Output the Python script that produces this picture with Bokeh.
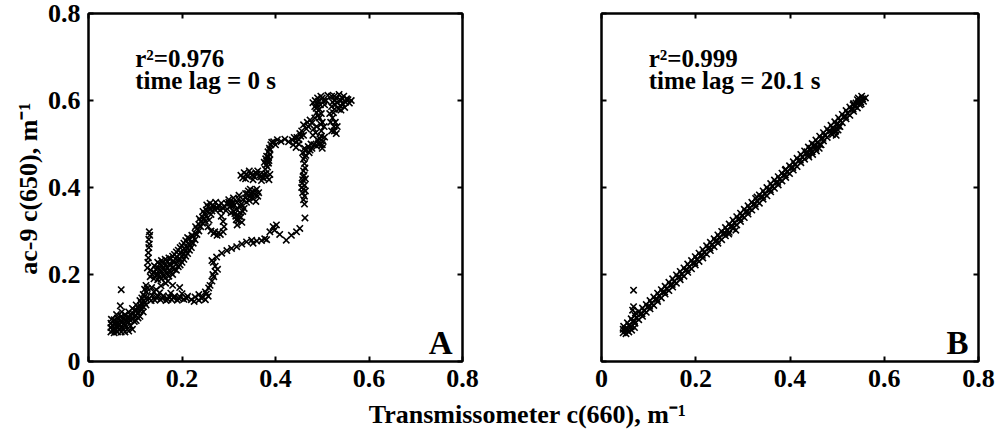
import numpy as np
from bokeh.plotting import figure
from bokeh.models import Range1d, LinearAxis, FixedTicker, NumeralTickFormatter, CustomJSTickFormatter, Label
from bokeh.layouts import column, row
from bokeh.embed import file_html
from bokeh.resources import INLINE

# ---------------- texts / ticks ----------------
TICKS = [0, 0.2, 0.4, 0.6, 0.8]
XLABEL = "Transmissometer c(660), m\u207b\u00b9"
YLABEL = "ac-9 c(650), m\u207b\u00b9"
ANNOT_A = ["r\u00b2=0.976", "time lag = 0 s"]
ANNOT_B = ["r\u00b2=0.999", "time lag = 20.1 s"]
LETTERS = ["A", "B"]

# ---------------- panel A data (time lag 0 s) ----------------
a_band = [(0.048,0.068),(0.048,0.078),(0.048,0.088),(0.049,0.097),
          (0.055,0.066),(0.055,0.076),(0.056,0.086),(0.055,0.096),
          (0.062,0.068),(0.062,0.078),(0.063,0.088),(0.062,0.100),
          (0.070,0.068),(0.070,0.080),(0.071,0.092),(0.070,0.104),
          (0.078,0.068),(0.078,0.084),(0.079,0.096),(0.078,0.108),
          (0.086,0.070),(0.086,0.090),(0.087,0.102),(0.086,0.114),
          (0.094,0.074),(0.094,0.098),(0.095,0.110),(0.094,0.122),
          (0.102,0.094),(0.102,0.106),(0.103,0.118),(0.102,0.130),
          (0.110,0.104),(0.110,0.116),(0.111,0.128),(0.110,0.140),
          (0.117,0.114),(0.117,0.126),(0.118,0.140),(0.117,0.154),
          (0.123,0.130),(0.123,0.145),(0.124,0.160),(0.123,0.175),
          (0.052,0.072),(0.059,0.082),(0.066,0.074),(0.074,0.086),(0.082,0.080),
          (0.090,0.094),(0.098,0.104),(0.106,0.112),(0.113,0.122),(0.120,0.135),
          (0.066,0.094),(0.082,0.100),(0.098,0.118),(0.113,0.134),(0.090,0.082),
          (0.051,0.083),(0.058,0.091),(0.065,0.083),(0.074,0.076),(0.074,0.098),
          (0.082,0.092),(0.090,0.106),(0.098,0.092),(0.106,0.124),(0.106,0.100),
          (0.114,0.146),(0.120,0.150),(0.120,0.166),(0.126,0.168),(0.058,0.072),(0.066,0.086),
          (0.070,0.165),(0.068,0.128),(0.071,0.114),(0.060,0.108)]
a_spike = [(0.130,0.298),(0.131,0.290),(0.129,0.281),(0.130,0.270),(0.129,0.262),
           (0.128,0.250),(0.128,0.238),(0.127,0.228),(0.126,0.215)]
a_upper = [(0.132,0.195),(0.133,0.210),
           (0.140,0.190),(0.140,0.205),(0.141,0.220),
           (0.148,0.188),(0.148,0.200),(0.149,0.215),(0.148,0.228),
           (0.156,0.190),(0.156,0.205),(0.157,0.220),(0.156,0.232),
           (0.164,0.192),(0.164,0.208),(0.165,0.222),(0.164,0.235),
           (0.172,0.196),(0.172,0.210),(0.173,0.225),(0.172,0.238),
           (0.180,0.200),(0.180,0.215),(0.181,0.230),(0.180,0.242),
           (0.188,0.210),(0.188,0.225),(0.189,0.240),(0.188,0.252),
           (0.196,0.222),(0.196,0.236),(0.197,0.250),(0.196,0.262),
           (0.204,0.235),(0.204,0.248),(0.205,0.260),(0.204,0.272),
           (0.212,0.248),(0.212,0.260),(0.213,0.272),(0.212,0.285),
           (0.220,0.262),(0.220,0.275),(0.221,0.290),
           (0.228,0.280),(0.228,0.295),(0.229,0.310),
           (0.236,0.300),(0.236,0.315),(0.237,0.328),
           (0.244,0.318),(0.244,0.332),(0.245,0.345),
           (0.252,0.335),(0.252,0.348),(0.253,0.360),
           (0.260,0.352),(0.260,0.364),
           (0.136,0.200),(0.144,0.198),(0.144,0.212),(0.152,0.195),(0.152,0.210),
           (0.152,0.224),(0.160,0.198),(0.160,0.214),(0.160,0.228),(0.168,0.202),
           (0.168,0.216),(0.168,0.230),(0.176,0.206),(0.176,0.222),(0.176,0.236),
           (0.184,0.212),(0.184,0.228),(0.184,0.246),(0.192,0.218),(0.192,0.232),
           (0.192,0.256),(0.200,0.228),(0.200,0.242),(0.200,0.266),(0.208,0.242),
           (0.208,0.256),(0.208,0.278),(0.216,0.256),(0.216,0.268),(0.216,0.282),
           (0.224,0.272),(0.224,0.288),(0.232,0.292),(0.232,0.305),(0.240,0.310),
           (0.240,0.322),(0.248,0.328),(0.248,0.340),(0.256,0.344),(0.256,0.356),
           (0.135,0.170),(0.145,0.165),(0.155,0.174),(0.165,0.180),
           (0.180,0.175),(0.195,0.170),(0.170,0.185)]
a_loop = [(0.266,0.360),(0.272,0.366),(0.278,0.358),(0.284,0.364),(0.290,0.357),
          (0.296,0.363),(0.302,0.356),(0.308,0.362),(0.270,0.350),(0.282,0.348),(0.294,0.347),
          (0.268,0.356),(0.276,0.352),(0.288,0.352),(0.300,0.366),(0.264,0.346),
          (0.250,0.322),(0.256,0.310),(0.262,0.300),(0.268,0.294),(0.275,0.290),
          (0.282,0.292),(0.288,0.298),(0.290,0.310),(0.288,0.322),(0.284,0.334),
          (0.262,0.338),(0.258,0.325),(0.278,0.296),(0.270,0.298)]
a_mid = [(0.300,0.372),(0.305,0.358),(0.310,0.345),(0.315,0.334),(0.320,0.324),
         (0.318,0.314),(0.326,0.332),(0.310,0.376),(0.318,0.366),(0.325,0.356),
         (0.330,0.345),(0.322,0.382),(0.330,0.372),(0.312,0.360),(0.305,0.342),
         (0.328,0.320),(0.316,0.350),(0.324,0.342),(0.308,0.366),
         (0.302,0.364),(0.313,0.340),(0.321,0.374),(0.327,0.362),(0.333,0.352),
         (0.316,0.326),(0.322,0.334),
         (0.336,0.376),(0.340,0.386),(0.345,0.378),(0.350,0.390),(0.355,0.384),
         (0.360,0.396),(0.346,0.396),(0.352,0.374),(0.358,0.368),(0.364,0.388),
         (0.338,0.366),(0.342,0.392),(0.336,0.386),(0.344,0.370),(0.348,0.384),
         (0.356,0.392),(0.362,0.380)]
a_steps = [(0.326,0.428),(0.333,0.434),(0.340,0.426),(0.347,0.432),(0.354,0.425),
           (0.361,0.431),(0.368,0.424),(0.375,0.430),(0.382,0.424),(0.388,0.430),
           (0.336,0.420),(0.352,0.418),(0.370,0.416),(0.386,0.418),(0.344,0.438),(0.362,0.438),
           (0.330,0.422),(0.338,0.430),(0.350,0.428),(0.358,0.434),(0.366,0.428),
           (0.374,0.422),(0.380,0.432),
           (0.378,0.442),(0.380,0.452),(0.382,0.462),(0.381,0.472),(0.384,0.482),
           (0.387,0.490),(0.390,0.498),(0.386,0.462),(0.376,0.458),(0.388,0.476),
           (0.383,0.447),(0.385,0.456),(0.379,0.466),(0.385,0.470),(0.388,0.486),(0.392,0.504),
           (0.396,0.505),(0.404,0.510),(0.412,0.506),(0.420,0.511),(0.428,0.505),
           (0.436,0.509),(0.444,0.504),(0.450,0.510),(0.400,0.498),
           (0.438,0.498),(0.444,0.492),(0.450,0.500),(0.446,0.515),(0.454,0.518),(0.440,0.515)]
a_top = [(0.458,0.480),(0.465,0.474),(0.472,0.480),(0.478,0.490),(0.470,0.494),
         (0.462,0.490),(0.476,0.500),(0.488,0.495),(0.495,0.500),(0.502,0.506),
         (0.495,0.512),(0.505,0.516),(0.490,0.510),(0.500,0.490),
         (0.464,0.484),(0.474,0.486),(0.482,0.498),(0.492,0.503),(0.500,0.498),
         (0.498,0.518),(0.466,0.535),(0.474,0.555),(0.482,0.535),(0.452,0.524),
         (0.456,0.530),(0.460,0.544),(0.468,0.550),(0.478,0.548),(0.488,0.540),
         (0.486,0.526),(0.480,0.520),(0.460,0.520),(0.470,0.540),
         (0.485,0.600),(0.490,0.590),(0.494,0.580),(0.498,0.570),(0.488,0.572),
         (0.494,0.560),(0.500,0.550),(0.504,0.540),(0.490,0.606),(0.500,0.606),
         (0.508,0.600),(0.505,0.590),(0.484,0.586),(0.484,0.560),(0.498,0.530),
         (0.480,0.595),(0.487,0.582),(0.492,0.598),(0.496,0.590),(0.503,0.598),
         (0.497,0.610),(0.491,0.565),(0.497,0.545),
         (0.520,0.610),(0.530,0.605),(0.540,0.600),(0.550,0.596),(0.558,0.594),
         (0.546,0.610),(0.536,0.614),(0.526,0.600),(0.528,0.590),(0.538,0.588),
         (0.548,0.584),(0.555,0.602),(0.520,0.586),(0.524,0.572),(0.522,0.560),
         (0.528,0.550),(0.525,0.540),(0.520,0.530),(0.530,0.524),(0.516,0.570),
         (0.512,0.612),(0.540,0.578),(0.562,0.600),
         (0.532,0.596),(0.542,0.606),(0.552,0.604),(0.535,0.580),(0.544,0.592),
         (0.526,0.610),(0.522,0.596),(0.526,0.580),(0.518,0.550),(0.526,0.530),(0.532,0.540)]
a_return = [(0.463,0.330),(0.462,0.362),(0.460,0.372),(0.462,0.380),(0.458,0.388),
            (0.460,0.396),(0.462,0.405),(0.458,0.418),(0.461,0.428),(0.460,0.438),
            (0.462,0.455),(0.460,0.465),(0.463,0.470),(0.457,0.410),(0.459,0.425),
            (0.464,0.392),(0.464,0.420),(0.456,0.400),(0.463,0.445),
            (0.264,0.232),(0.274,0.240),(0.285,0.249),(0.296,0.255),(0.306,0.260),
            (0.317,0.264),(0.328,0.270),(0.338,0.275),(0.349,0.279),(0.360,0.277),
            (0.370,0.278),(0.377,0.282),(0.388,0.298),(0.395,0.310),(0.402,0.314),
            (0.398,0.302),(0.409,0.292),(0.423,0.279),(0.434,0.290),(0.445,0.298),
            (0.452,0.306),(0.352,0.272),(0.381,0.280),
            (0.250,0.160),(0.257,0.169),(0.264,0.185),(0.271,0.207),(0.271,0.219),
            (0.267,0.228),(0.266,0.200),(0.276,0.212),(0.260,0.175),(0.268,0.195),
            (0.130,0.145),(0.136,0.152),(0.142,0.141),(0.148,0.150),(0.154,0.142),
            (0.160,0.151),(0.166,0.140),(0.172,0.149),(0.178,0.142),(0.184,0.150),
            (0.190,0.141),(0.196,0.148),(0.204,0.143),(0.212,0.150),(0.220,0.142),
            (0.228,0.148),(0.236,0.141),(0.244,0.149),(0.250,0.142),(0.256,0.150),
            (0.134,0.140),(0.146,0.146),(0.158,0.145),(0.170,0.143),(0.182,0.146),
            (0.194,0.144),(0.210,0.145),(0.242,0.145),(0.252,0.155),
            (0.140,0.160),(0.152,0.158),(0.176,0.157),(0.200,0.156),(0.236,0.154),(0.226,0.138)]

# ---------------- panel B data (time lag 20.1 s) ----------------
b_line = [(0.050,0.075),(0.058,0.083),(0.066,0.092),(0.074,0.100),(0.082,0.109),
          (0.090,0.117),(0.098,0.125),(0.106,0.134),(0.114,0.142),(0.122,0.151),
          (0.130,0.159),(0.138,0.167),(0.146,0.176),(0.154,0.184),(0.162,0.193),
          (0.170,0.201),(0.178,0.209),(0.186,0.218),(0.194,0.226),(0.202,0.235),
          (0.210,0.243),(0.218,0.251),(0.226,0.260),(0.234,0.268),(0.242,0.277),
          (0.250,0.285),(0.258,0.293),(0.266,0.302),(0.274,0.310),(0.282,0.319),
          (0.290,0.327),(0.298,0.335),(0.306,0.344),(0.314,0.352),(0.322,0.361),
          (0.330,0.369),(0.338,0.377),(0.346,0.386),(0.354,0.394),(0.362,0.403),
          (0.370,0.411),(0.378,0.419),(0.386,0.428),(0.394,0.436),(0.402,0.445),
          (0.410,0.453),(0.418,0.461),(0.426,0.470),(0.434,0.478),(0.442,0.487),
          (0.450,0.495),(0.458,0.503),(0.466,0.512),(0.474,0.520),(0.482,0.529),
          (0.490,0.537),(0.498,0.545),(0.506,0.554),(0.514,0.562),(0.522,0.571),
          (0.530,0.579),(0.538,0.587),(0.546,0.596),(0.554,0.604)]
b_lower = [(0.055,0.071),(0.063,0.080),(0.071,0.088),(0.079,0.096),(0.087,0.104),
           (0.095,0.113),(0.103,0.121),(0.111,0.129),(0.119,0.138),(0.127,0.146),
           (0.135,0.155),(0.143,0.163),(0.151,0.171),(0.159,0.180),(0.167,0.188),
           (0.175,0.196),(0.183,0.205),(0.191,0.213),(0.199,0.222),(0.207,0.230),
           (0.215,0.238),(0.223,0.247),(0.231,0.255),(0.239,0.264),(0.247,0.272),
           (0.255,0.280),(0.263,0.289),(0.271,0.297),(0.279,0.306),(0.287,0.314),
           (0.295,0.322),(0.303,0.331),(0.311,0.339),(0.319,0.348),(0.327,0.356),
           (0.335,0.364),(0.343,0.373),(0.351,0.381),(0.359,0.390),(0.367,0.398),
           (0.375,0.406),(0.383,0.415),(0.391,0.423),(0.399,0.432),(0.407,0.440),
           (0.415,0.448),(0.423,0.457),(0.431,0.465),(0.439,0.474),(0.447,0.482),
           (0.455,0.490),(0.463,0.499),(0.471,0.507),(0.479,0.515),(0.487,0.524),
           (0.495,0.532),(0.503,0.541),(0.511,0.549),(0.519,0.558),(0.527,0.566),
           (0.535,0.575),(0.543,0.583),(0.551,0.592)]
b_between = [(0.054,0.076),(0.070,0.093),(0.086,0.110),(0.102,0.127),(0.118,0.143),
             (0.134,0.160),(0.150,0.177),(0.166,0.194),(0.182,0.211),(0.198,0.227),
             (0.214,0.244),(0.230,0.261),(0.246,0.278),(0.262,0.295),(0.278,0.311),
             (0.294,0.328),(0.310,0.345),(0.326,0.362),(0.342,0.379),(0.358,0.395),
             (0.374,0.412),(0.390,0.429),(0.406,0.446),(0.422,0.463),(0.438,0.479),
             (0.454,0.496),(0.470,0.513),(0.486,0.530),(0.502,0.547),(0.518,0.563),
             (0.534,0.580),(0.550,0.597)]
b_upper = [(0.047,0.081),(0.063,0.098),(0.079,0.115),(0.095,0.131),(0.111,0.148),
           (0.127,0.165),(0.143,0.182),(0.159,0.199),(0.175,0.215),(0.191,0.232),
           (0.207,0.249),(0.223,0.266),(0.239,0.282),(0.255,0.299),(0.271,0.316),
           (0.287,0.333),(0.303,0.350),(0.319,0.366),(0.335,0.383),(0.351,0.400),
           (0.367,0.417),(0.383,0.433),(0.399,0.450),(0.415,0.467),(0.431,0.484),
           (0.447,0.501),(0.463,0.518),(0.479,0.534),(0.495,0.551),(0.511,0.568),
           (0.527,0.585),(0.543,0.602),
           (0.055,0.089),(0.071,0.106),(0.087,0.123),(0.103,0.140),(0.119,0.157),
           (0.135,0.173),(0.151,0.190),(0.167,0.207),(0.183,0.224),(0.199,0.241),
           (0.215,0.257),(0.231,0.274),(0.247,0.291),(0.263,0.308),(0.279,0.325),
           (0.295,0.341),(0.311,0.358),(0.327,0.375),(0.343,0.392),(0.359,0.409),
           (0.375,0.425),(0.391,0.442),(0.407,0.459),(0.423,0.476),(0.439,0.493),
           (0.455,0.509),(0.471,0.526),(0.487,0.543),(0.503,0.560),(0.519,0.577),
           (0.535,0.593)]
b_extra = [(0.046,0.066),(0.052,0.064),(0.058,0.068),(0.064,0.072),(0.046,0.074),(0.070,0.078),
           (0.068,0.164),(0.068,0.126),(0.066,0.118),(0.072,0.112),
           (0.440,0.470),(0.448,0.476),(0.456,0.484),(0.462,0.490),(0.452,0.498),
           (0.444,0.490),(0.436,0.482),(0.466,0.498),
           (0.490,0.522),(0.496,0.528),(0.502,0.532),(0.498,0.520),(0.506,0.540),(0.492,0.534),
           (0.545,0.606),(0.552,0.610),(0.560,0.606),(0.556,0.598),(0.548,0.590),
           (0.540,0.594),(0.534,0.590),(0.530,0.580),
           (0.270,0.293),(0.285,0.302),(0.262,0.296),(0.330,0.378),(0.390,0.440)]

panel_a = a_band + a_spike + a_upper + a_loop + a_mid + a_steps + a_top + a_return
panel_b = b_line + b_lower + b_between + b_upper + b_extra

FONT = "Liberation Serif"
ROW_H = 399


def style_axis(ax, labels):
    ax.ticker = FixedTicker(ticks=TICKS)
    ax.minor_tick_line_color = None
    ax.major_tick_in = 5
    ax.major_tick_out = 0
    ax.major_tick_line_width = 2
    ax.major_tick_line_color = "black"
    ax.axis_line_width = 2
    ax.axis_line_color = "black"
    if labels:
        ax.formatter = NumeralTickFormatter(format="0.[0]")
        ax.major_label_text_font = FONT
        ax.major_label_text_font_style = "bold"
        ax.major_label_text_font_size = "26px"
        ax.major_label_text_color = "black"
        ax.major_label_standoff = 8
    else:
        ax.formatter = CustomJSTickFormatter(code="return ''")
        ax.major_label_text_font_size = "1px"
        ax.major_label_standoff = 0


def make_panel(points, annot, letter, width, left, right, ylabels):
    p = figure(width=width, height=ROW_H, x_range=Range1d(0, 0.8), y_range=Range1d(0, 0.8),
               output_backend="svg", toolbar_location=None,
               x_axis_location=None, y_axis_location=None,
               min_border_left=left, min_border_right=right,
               min_border_top=13, min_border_bottom=38)
    p.grid.visible = False
    p.outline_line_color = "black"
    p.outline_line_width = 2
    p.background_fill_color = "white"
    p.border_fill_color = "white"

    bottom = LinearAxis(); style_axis(bottom, True); p.add_layout(bottom, "below")
    leftax = LinearAxis(); style_axis(leftax, ylabels); p.add_layout(leftax, "left")
    top = LinearAxis(); style_axis(top, False); p.add_layout(top, "above")
    rightax = LinearAxis(); style_axis(rightax, False); p.add_layout(rightax, "right")

    xs = [q[0] for q in points]
    ys = [q[1] for q in points]
    p.scatter(xs, ys, marker="x", size=9, line_color="black", line_width=1.6)

    for txt, yy in zip(annot, [0.697, 0.647]):
        p.add_layout(Label(x=0.1, y=yy, text=txt, text_font=FONT, text_font_style="bold",
                           text_font_size="25px", text_color="black",
                           text_baseline="alphabetic", text_align="left"))
    p.add_layout(Label(x=0.779, y=0.043, text=letter, text_font=FONT, text_font_style="bold",
                       text_font_size="33px", text_color="black",
                       text_baseline="alphabetic", text_align="right"))
    return p


def make_strip(width, height):
    s = figure(width=width, height=height, x_range=Range1d(0, width), y_range=Range1d(0, height),
               output_backend="svg", toolbar_location=None,
               x_axis_location=None, y_axis_location=None, min_border=0)
    s.outline_line_color = None
    s.grid.visible = False
    return s


ystrip = make_strip(44, ROW_H)
ystrip.add_layout(Label(x=28, y=ROW_H - 201, text=YLABEL, angle=np.pi / 2, angle_units="rad",
                        text_font=FONT, text_font_style="bold", text_font_size="26px",
                        text_color="black", text_baseline="alphabetic", text_align="center"))

pA = make_panel(panel_a, ANNOT_A, LETTERS[0], 476, 42, 58, True)
pB = make_panel(panel_b, ANNOT_B, LETTERS[1], 477, 81, 19, False)

xstrip = make_strip(997, 431 - ROW_H)
xstrip.add_layout(Label(x=527, y=17, text=XLABEL, text_font=FONT, text_font_style="bold",
                        text_font_size="26px", text_color="black",
                        text_baseline="alphabetic", text_align="center"))

layout = column(row(ystrip, pA, pB), xstrip)
open("out.html", "w").write(file_html(layout, INLINE))
